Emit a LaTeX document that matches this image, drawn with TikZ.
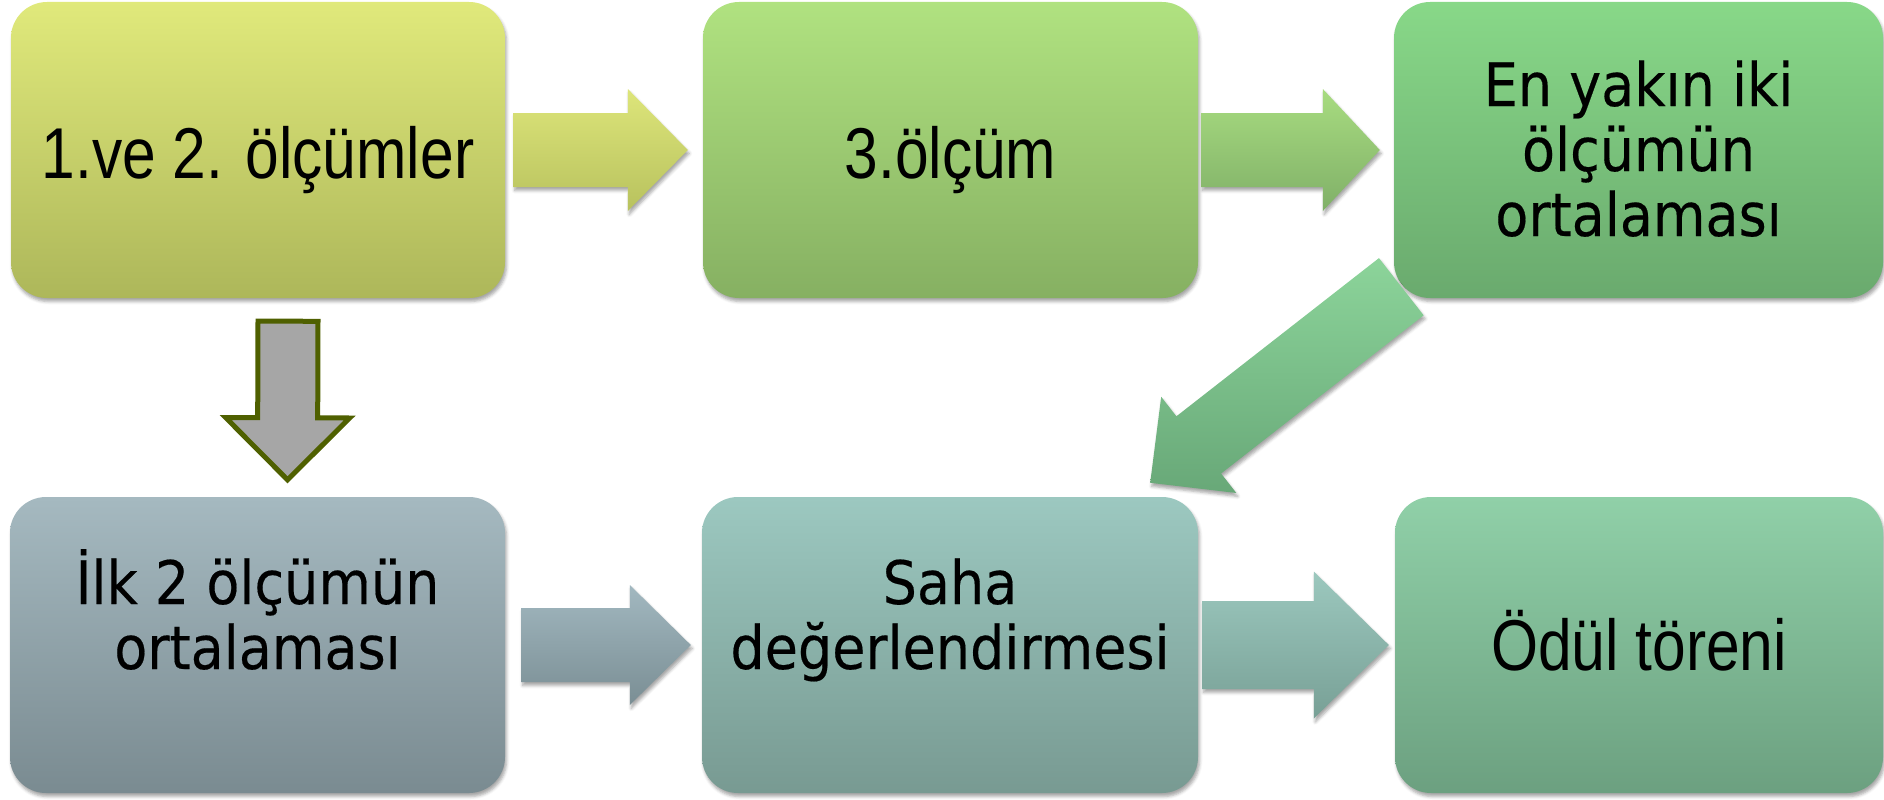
\documentclass[tikz,border=0pt]{standalone}
\usepackage{fontspec}
\usetikzlibrary{calc,shadows.blur}
\newfontfamily\narrowfont{Liberation Sans}[FakeStretch=0.84]
\newfontfamily\tahfont{DejaVu Sans}[FakeStretch=0.9,FakeBold=0.3]
\definecolor{bAt}{HTML}{E0E97B}\definecolor{bAb}{HTML}{ADB75A}
\definecolor{bBt}{HTML}{B0E280}\definecolor{bBb}{HTML}{86B062}
\definecolor{bCt}{HTML}{88D888}\definecolor{bCb}{HTML}{6AAA6E}
\definecolor{bDt}{HTML}{A5B9C0}\definecolor{bDb}{HTML}{7A8B91}
\definecolor{bEt}{HTML}{9CC8C0}\definecolor{bEb}{HTML}{789A92}
\definecolor{bFt}{HTML}{90D0A8}\definecolor{bFb}{HTML}{6CA080}
\definecolor{aAt}{HTML}{DDE57A}\definecolor{aAb}{HTML}{B8C25E}
\definecolor{aBt}{HTML}{A8DC80}\definecolor{aBb}{HTML}{80B068}
\definecolor{aDt}{HTML}{A2B8C0}\definecolor{aDb}{HTML}{7A8E94}
\definecolor{aEt}{HTML}{9CC8BE}\definecolor{aEb}{HTML}{78A096}
\definecolor{aCt}{HTML}{8CD49A}\definecolor{aCb}{HTML}{68A878}
\definecolor{downfill}{HTML}{A6A6A6}\definecolor{downline}{HTML}{4F6000}
% block arrow: name, style, tail, tip, half shaft, half head, head length
\newcommand\blockarr[7]{%
  \coordinate (#1-b) at ($(#4)!#7!(#3)$);
  \path[#2] ($(#3)!#5!90:(#4)$) -- ($(#1-b)!#5!90:(#4)$) -- ($(#1-b)!#6!90:(#4)$)
    -- (#4) -- ($(#1-b)!#6!-90:(#4)$) -- ($(#1-b)!#5!-90:(#4)$)
    -- ($(#3)!#5!-90:(#4)$) -- cycle;
}
\begin{document}
\begin{tikzpicture}[x=1pt,y=-1pt,
  shad/.style={blur shadow={shadow xshift=1.5pt,shadow yshift=-3.5pt,shadow blur radius=3pt,shadow opacity=35}},
  box/.style={shad,rounded corners=36pt,inner sep=0pt,minimum height=296pt},
  lblA/.style={font=\narrowfont\fontsize{72}{80}\selectfont,inner sep=0pt,anchor=base},
  lblB/.style={font=\tahfont\fontsize{60}{65}\selectfont,inner sep=0pt,align=center,anchor=base},
  arr/.style={shad},
  ]
\useasboundingbox (0,0) rectangle (1884,800);
% boxes
\node[box,minimum width=494pt,top color=bAt,bottom color=bAb] (b1) at (258,150) {};
\node[box,minimum width=495pt,top color=bBt,bottom color=bBb] (b2) at (950.5,150) {};
\node[box,minimum width=489pt,top color=bCt,bottom color=bCb] (b3) at (1638.5,150) {};
\node[box,minimum width=495pt,top color=bDt,bottom color=bDb] (b4) at (257.5,645) {};
\node[box,minimum width=496pt,top color=bEt,bottom color=bEb] (b5) at (950,645) {};
\node[box,minimum width=488pt,top color=bFt,bottom color=bFb] (b6) at (1639,645) {};
% texts (base = baseline of the last line)
\node[lblA] (t1) at ($(b1.center)+(0,28)$) {1.ve 2. ölçümler};
\node[lblA] (t2) at ($(b2.center)+(0,28)$) {3.ölçüm};
\node[lblB] (t3) at ($(b3.center)+(0,86)$) {En yakın iki\\ölçümün\\ortalaması};
\node[lblB] (t4) at ($(b4.center)+(0,24)$) {İlk 2 ölçümün\\ortalaması};
\node[lblB] (t5) at ($(b5.center)+(0,24)$) {Saha\\değerlendirmesi};
\node[lblA] (t6) at ($(b6.center)+(0,25)$) {Ödül töreni};
% arrow end points
\coordinate (a12s) at ($(b1.east)+(8,0)$);
\coordinate (a12e) at ($(b2.west)+(-15,0)$);
\coordinate (a23s) at ($(b2.east)+(3,0)$);
\coordinate (a23e) at ($(b3.west)+(-14,0)$);
\coordinate (a45s) at ($(b4.east)+(16,0)$);
\coordinate (a45e) at ($(b5.west)+(-11,0)$);
\coordinate (a56s) at ($(b5.east)+(4,0)$);
\coordinate (a56e) at ($(b6.west)+(-6,0)$);
\coordinate (a35s) at ($(b3.south west)+(7.5,-11.5)$);
\coordinate (a35e) at ($(b5.north east)+(-48,-14)$);
\coordinate (a14s) at ($(b1.south)+(30,23)$);
\coordinate (a14e) at ($(b4.north)+(30,-17)$);
% arrows
\blockarr{a12}{arr,top color=aAt,bottom color=aAb}{a12s}{a12e}{37pt}{61pt}{60pt}
\blockarr{a23}{arr,top color=aBt,bottom color=aBb}{a23s}{a23e}{37pt}{61pt}{57pt}
\blockarr{a45}{arr,top color=aDt,bottom color=aDb}{a45s}{a45e}{37pt}{60pt}{61pt}
\blockarr{a56}{arr,top color=aEt,bottom color=aEb}{a56s}{a56e}{44pt}{73.5pt}{75pt}
\blockarr{a35}{arr,top color=aCt,bottom color=aCb}{a35s}{a35e}{36.3pt}{61pt}{61.6pt}
\blockarr{a14}{fill=downfill,draw=downline,line width=5pt}{a14s}{a14e}{30pt}{62pt}{62pt}
\end{tikzpicture}
\end{document}
